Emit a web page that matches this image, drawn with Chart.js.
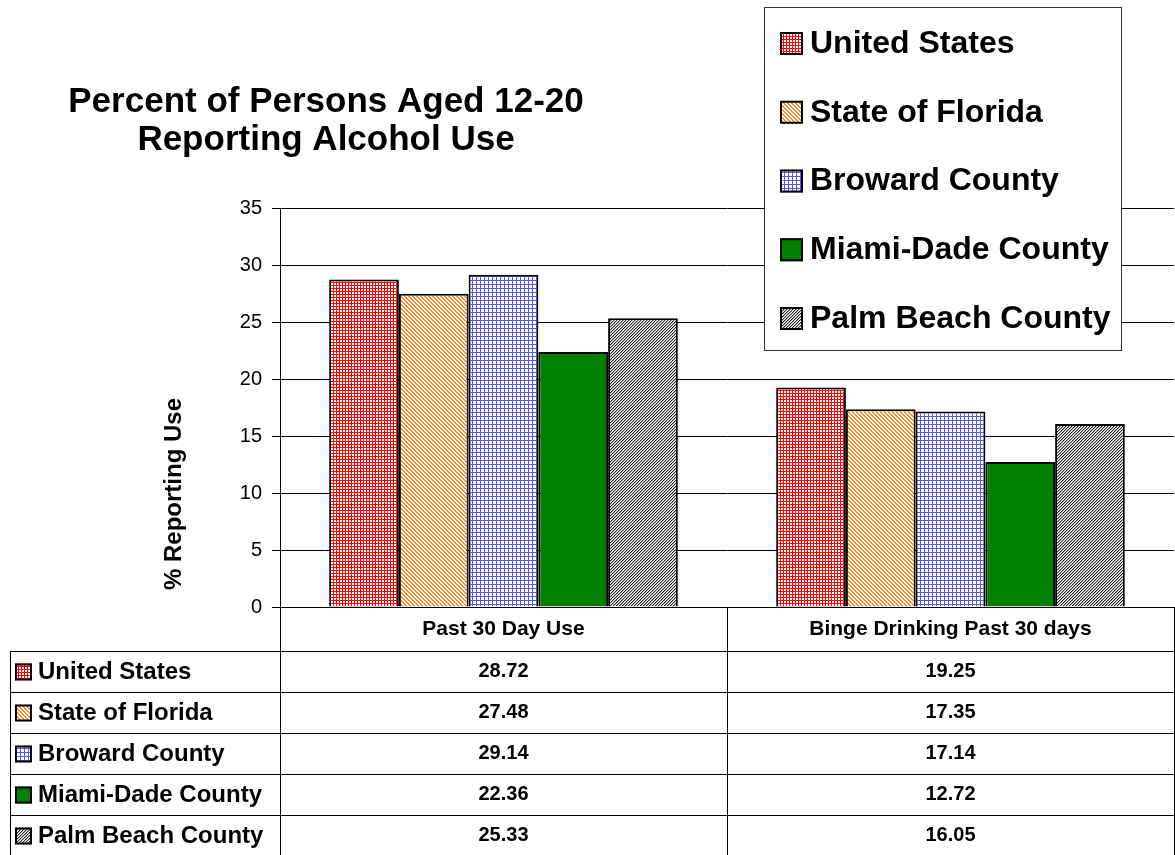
<!DOCTYPE html>
<html>
<head>
<meta charset="utf-8">
<script src="https://cdn.jsdelivr.net/npm/chart.js@4"></script>
<style>
  html, body { margin: 0; padding: 0; background: #fff; }
  #wrap { width: 1175px; height: 855px; position: relative; }
</style>
</head>
<body>
<div id="wrap"><canvas id="c" width="1175" height="855"></canvas></div>
<script>
// ── Data ────────────────────────────────────────────────────────────
const CATEGORIES = ['Past 30 Day Use', 'Binge Drinking Past 30 days'];
const SERIES     = ['United States', 'State of Florida', 'Broward County', 'Miami-Dade County', 'Palm Beach County'];
const US_VALUES  = [28.72, 19.25];
const FL_VALUES  = [27.48, 17.35];
const BR_VALUES  = [29.14, 17.14];
const MD_VALUES  = [22.36, 12.72];
const PB_VALUES  = [25.33, 16.05];
const Y_TICKS    = [0, 5, 10, 15, 20, 25, 30, 35];
const TITLE      = ['Percent of Persons Aged 12-20', 'Reporting Alcohol Use'];
const Y_TITLE    = '% Reporting Use';

const FONT = 'Arial, "Liberation Sans", sans-serif';

// ── Fill patterns (Excel-style) ─────────────────────────────────────
function makePattern(size, draw) {
  const c = document.createElement('canvas');
  c.width = c.height = size;
  const g = c.getContext('2d');
  g.fillStyle = '#fff';
  g.fillRect(0, 0, size, size);
  draw(g, size);
  return g.createPattern(c, 'repeat');
}

const redGrid = makePattern(3, (g) => {
  g.fillStyle = '#ff0000';
  g.fillRect(0, 0, 3, 1);
  g.fillRect(0, 0, 1, 3);
});

const orangeDiag = makePattern(4, (g, n) => {
  g.fillStyle = '#ff8c2a';
  for (let y = 0; y < n; y++)
    for (let x = 0; x < n; x++)
      if (((x - y) % n + n) % n < 2) g.fillRect(x, y, 1, 1);
});

const blueGrid = makePattern(4, (g) => {
  g.fillStyle = '#5555ff';
  g.fillRect(0, 0, 4, 1);
  g.fillRect(0, 0, 1, 4);
});

const blackDiag = makePattern(3, (g, n) => {
  g.fillStyle = '#222';
  for (let y = 0; y < n; y++)
    for (let x = 0; x < n; x++)
      if ((x + y) % n === 0) g.fillRect(x, y, 1, 1);
  g.fillStyle = '#aaa';
  for (let y = 0; y < n; y++)
    for (let x = 0; x < n; x++)
      if ((x + y) % n === 1) g.fillRect(x, y, 1, 1);
});

const FILLS = [redGrid, orangeDiag, blueGrid, '#008000', blackDiag];
const VALUES = [US_VALUES, FL_VALUES, BR_VALUES, MD_VALUES, PB_VALUES];

// ── Geometry of the frame around the plot ───────────────────────────
const PLOT_LEFT   = 280;
const PLOT_TOP    = 208;
const PLOT_BOTTOM = 607;
const ROW_H       = 41;

function swatch(ctx, x, y, s, fill) {
  ctx.fillStyle = fill;
  ctx.fillRect(x, y, s, s);
  ctx.strokeStyle = '#000';
  ctx.lineWidth = 2;
  ctx.strokeRect(x + 1, y + 1, s - 2, s - 2);
}

// ── Extras: title, y title, legend box, data table ──────────────────
const extras = {
  id: 'extras',
  afterDraw(chart) {
    const ctx = chart.ctx;
    const area = chart.chartArea;
    ctx.save();

    // title
    ctx.fillStyle = '#000';
    ctx.textAlign = 'center';
    ctx.textBaseline = 'middle';
    ctx.font = 'bold 35px ' + FONT;
    ctx.fillText(TITLE[0], 326, 102);
    ctx.fillText(TITLE[1], 326, 140);

    // y axis title
    ctx.save();
    ctx.translate(174, 494);
    ctx.rotate(-Math.PI / 2);
    ctx.font = 'bold 24px ' + FONT;
    ctx.fillText(Y_TITLE, 0, 0);
    ctx.restore();

    // data table
    const x0 = 10, right = area.right;
    const colW = (area.right - area.left) / CATEGORIES.length;
    ctx.strokeStyle = '#000';
    ctx.lineWidth = 1;
    ctx.beginPath();
    ctx.moveTo(area.left, PLOT_BOTTOM + 0.5);
    ctx.lineTo(right, PLOT_BOTTOM + 0.5);
    const headBottom = PLOT_BOTTOM + 44;
    for (let r = 0; r < SERIES.length; r++) {
      const yy = headBottom + r * ROW_H + 0.5;
      ctx.moveTo(x0, yy);
      ctx.lineTo(right, yy);
    }
    ctx.moveTo(x0 + 0.5, headBottom);
    ctx.lineTo(x0 + 0.5, 855);
    for (let i = 0; i <= CATEGORIES.length; i++) {
      const xx = Math.round(area.left + i * colW) + 0.5;
      ctx.moveTo(xx, PLOT_BOTTOM);
      ctx.lineTo(xx, 855);
    }
    ctx.stroke();

    ctx.fillStyle = '#000';
    ctx.textAlign = 'center';
    ctx.font = 'bold 21px ' + FONT;
    CATEGORIES.forEach((c, i) => {
      ctx.fillText(c, area.left + (i + 0.5) * colW, PLOT_BOTTOM + 22);
    });
    SERIES.forEach((s, r) => {
      const cy = headBottom + r * ROW_H + ROW_H / 2;
      ctx.textAlign = 'center';
      ctx.font = 'bold 20px ' + FONT;
      ctx.fillStyle = '#000';
      VALUES[r].forEach((v, i) => {
        ctx.fillText(v.toFixed(2), area.left + (i + 0.5) * colW, cy);
      });
      swatch(ctx, 15, cy - 8, 17, FILLS[r]);
      ctx.fillStyle = '#000';
      ctx.textAlign = 'left';
      ctx.font = 'bold 24px ' + FONT;
      ctx.fillText(s, 38, cy + 1);
    });

    // legend box
    ctx.fillStyle = '#fff';
    ctx.fillRect(764, 7, 357, 344);
    ctx.strokeStyle = '#333';
    ctx.lineWidth = 1;
    ctx.strokeRect(764.5, 7.5, 357, 343);
    SERIES.forEach((s, r) => {
      const cy = 43 + r * 68.75;
      swatch(ctx, 780, cy - 11, 23, FILLS[r]);
      ctx.fillStyle = '#000';
      ctx.textAlign = 'left';
      ctx.font = 'bold 32px ' + FONT;
      ctx.fillText(s, 810, cy + 1);
    });

    ctx.restore();
  }
};

// ── Chart ───────────────────────────────────────────────────────────
new Chart(document.getElementById('c'), {
  type: 'bar',
  data: {
    labels: CATEGORIES,
    datasets: SERIES.map((s, i) => ({
      label: s,
      data: VALUES[i],
      backgroundColor: FILLS[i],
      borderColor: '#000',
      borderWidth: 2,
      borderSkipped: 'bottom',
      categoryPercentage: 0.78,
      barPercentage: 1.0,
    }))
  },
  options: {
    responsive: false,
    animation: false,
    layout: { padding: { top: PLOT_TOP, bottom: 855 - PLOT_BOTTOM, left: 0, right: 1 } },
    plugins: {
      legend: { display: false },
      title: { display: false },
      tooltip: { enabled: false }
    },
    scales: {
      x: { display: false },
      y: {
        min: Y_TICKS[0],
        max: Y_TICKS[Y_TICKS.length - 1],
        afterFit: (scale) => { scale.width = PLOT_LEFT; },
        afterBuildTicks: (scale) => { scale.ticks = Y_TICKS.map(v => ({ value: v })); },
        ticks: { color: '#000', font: { family: FONT, size: 20 }, padding: 10 },
        grid: { color: '#000', lineWidth: 1, tickLength: 8, drawTicks: true },
        border: { color: '#000', width: 1 }
      }
    }
  },
  plugins: [extras]
});
</script>
</body>
</html>
